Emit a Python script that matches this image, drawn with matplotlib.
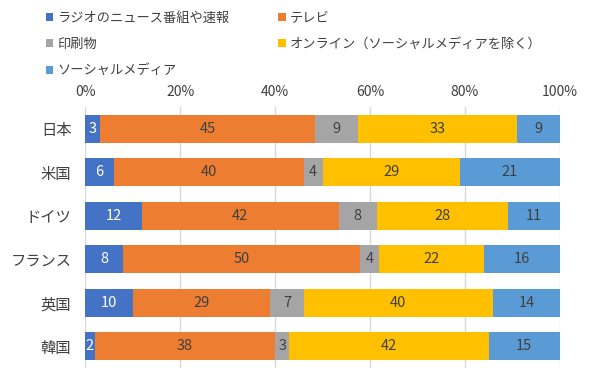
import matplotlib
matplotlib.use("Agg")
import matplotlib.pyplot as plt
import numpy as np
from matplotlib.patches import Patch

plt.rcParams['font.family'] = ['Noto Sans CJK JP', 'DejaVu Sans']

countries = ["日本", "米国", "ドイツ", "フランス", "英国", "韓国"]
series_names = ["ラジオのニュース番組や速報", "テレビ", "印刷物",
                "オンライン（ソーシャルメディアを除く）", "ソーシャルメディア"]
radio = [3, 6, 12, 8, 10, 2]
tv = [45, 40, 42, 50, 29, 38]
printed = [9, 4, 8, 4, 7, 3]
online = [33, 29, 28, 22, 40, 42]
social = [9, 21, 11, 16, 14, 15]
colors = ["#4472C4", "#ED7D31", "#A5A5A5", "#FFC000", "#5B9BD5"]
label_colors = ["white", "#404040", "#404040", "#404040", "#404040"]
xticks = [0, 20, 40, 60, 80, 100]

data = np.array([radio, tv, printed, online, social], dtype=float)
totals = data.sum(axis=0)
pct = data / totals * 100

fig = plt.figure(figsize=(6, 3.8), dpi=100)
ax = fig.add_axes([0.142, 0.032, 0.791, 0.686])
y = np.arange(len(countries))
left = np.zeros(len(countries))
handles = []
for i in range(len(series_names)):
    bars = ax.barh(y, pct[i], left=left, height=0.64, color=colors[i],
                   linewidth=0, zorder=3)
    for j, b in enumerate(bars):
        ax.text(left[j] + pct[i][j] / 2, y[j], f"{int(data[i][j])}",
                ha='center', va='center', fontsize=10.5, color=label_colors[i],
                zorder=4)
    left += pct[i]
    handles.append(Patch(facecolor=colors[i]))

ax.set_xlim(0, 100)
ax.set_ylim(5.5, -0.5)
ax.set_yticks(y)
ax.set_yticklabels(countries, fontsize=11, color='#404040')
ax.set_xticks(xticks)
ax.set_xticklabels([f"{t}%" for t in xticks], fontsize=10, color='#404040')
ax.xaxis.tick_top()
ax.tick_params(axis='x', length=0, pad=6)
ax.tick_params(axis='y', length=0, pad=10)
ax.grid(axis='x', color='#D9D9D9', linewidth=1, zorder=0)
for s in ax.spines.values():
    s.set_visible(False)

order = [0, 2, 4, 1, 3]
fig.legend([handles[k] for k in order], [series_names[k] for k in order],
           loc='upper left', bbox_to_anchor=(0.057, 1.0), ncol=2,
           frameon=False, fontsize=9.5, handlelength=0.55, handleheight=0.55,
           handletextpad=0.3, columnspacing=3.7, labelspacing=1.0,
           labelcolor='#404040')

fig.savefig("out.png", dpi=100, facecolor='white')
